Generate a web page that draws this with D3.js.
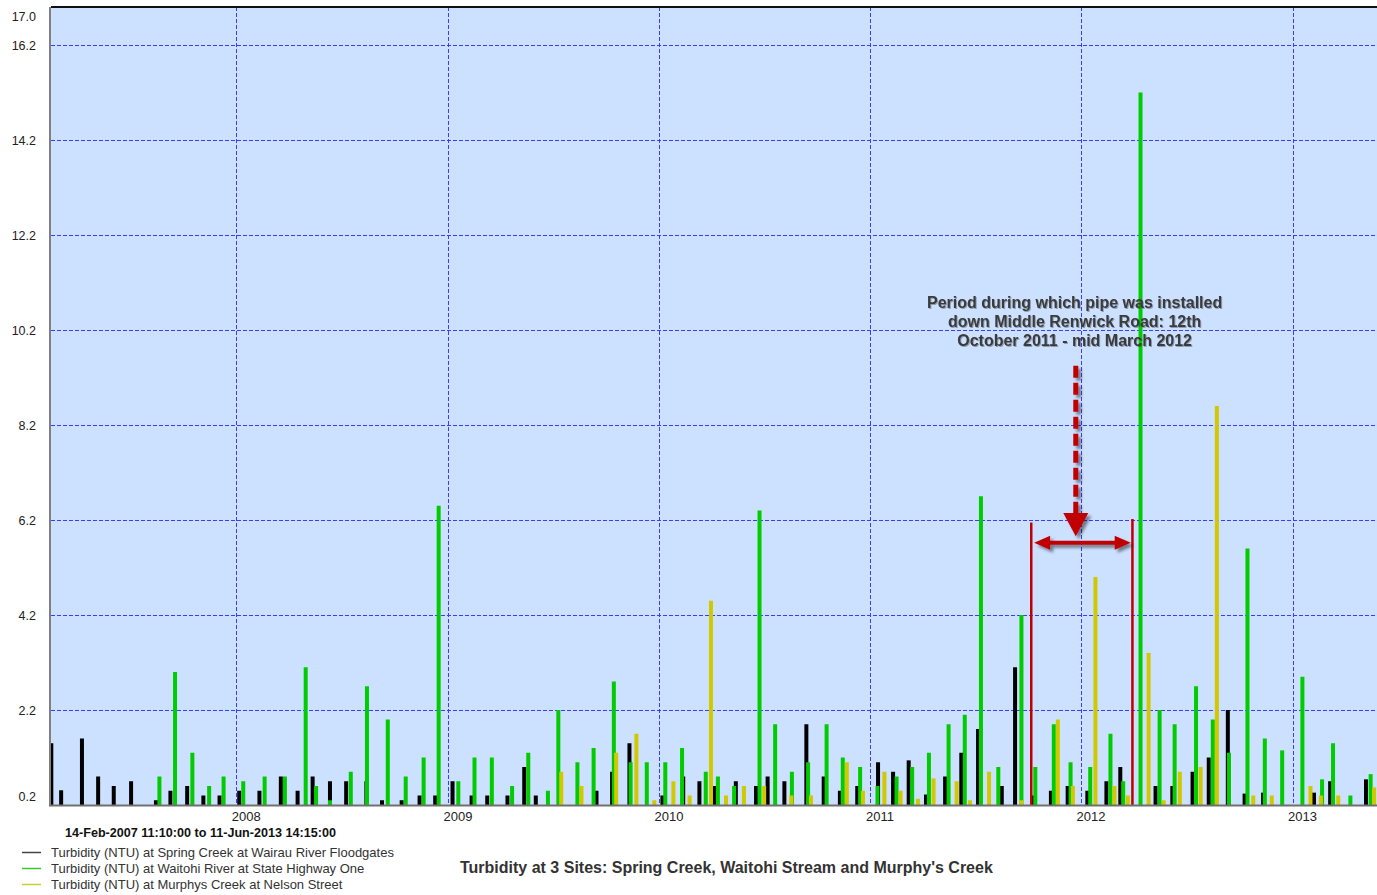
<!DOCTYPE html>
<html>
<head>
<meta charset="utf-8">
<script src="https://cdn.jsdelivr.net/npm/d3@7"></script>
<style>
  body { margin: 0; background: #fff; }
  svg { display: block; font-family: Arial, "Liberation Sans", sans-serif; }
</style>
</head>
<body>
<svg id="chart"></svg>
<script>
// sample dates and turbidity (NTU) for each site
const springDates = ["2007-02-15","2007-03-04","2007-04-09","2007-05-07","2007-06-03","2007-07-03","2007-08-15","2007-09-09","2007-10-08","2007-11-05","2007-12-03",
  "2008-01-06","2008-02-10","2008-03-18","2008-04-16","2008-05-12","2008-06-11","2008-07-09","2008-08-13","2008-09-09","2008-10-13","2008-11-13","2008-12-10",
  "2009-01-09","2009-02-11","2009-03-10","2009-04-14","2009-05-13","2009-06-02","2009-09-15","2009-10-12","2009-11-11",
  "2010-01-07","2010-02-12","2010-03-12","2010-04-07","2010-05-14","2010-06-18","2010-07-08","2010-08-06","2010-09-13","2010-10-13","2010-11-10","2010-12-10",
  "2011-01-15","2011-02-10","2011-03-09","2011-04-08","2011-05-11","2011-06-08","2011-07-07","2011-08-17","2011-09-09","2011-10-11","2011-11-10","2011-12-09",
  "2012-01-12","2012-02-14","2012-03-09","2012-05-09","2012-06-07","2012-07-12","2012-08-09","2012-09-11","2012-10-10","2012-11-11",
  "2013-02-07","2013-03-07","2013-05-08"];
const springValues = [1.5,0.51,1.6,0.8,0.6,0.7,0.3,0.5,0.6,0.4,0.4,
  0.5,0.5,0.8,0.5,0.8,0.7,0.7,0.7,0.3,0.3,0.4,0.4,
  0.7,0.4,0.4,0.4,1.0,0.4,0.5,0.9,1.5,
  0.4,0.8,0.7,0.6,0.7,0.6,0.8,0.7,1.9,0.8,0.5,0.6,
  1.1,0.9,1.14,0.42,0.8,1.3,1.8,0.6,3.1,0.4,0.5,0.6,
  0.5,0.7,1.0,0.6,0.6,0.9,1.2,2.2,0.44,0.46,
  0.46,0.7,0.74];

const waitohiDates = ["2007-08-21","2007-09-17","2007-10-17","2007-11-15","2007-12-10",
  "2008-01-13","2008-02-19","2008-03-25","2008-04-30","2008-05-18","2008-06-11","2008-07-17","2008-08-14","2008-09-19","2008-10-20","2008-11-20","2008-12-16",
  "2009-01-19","2009-02-16","2009-03-18","2009-04-22","2009-05-20","2009-06-23","2009-07-11","2009-08-13","2009-09-10","2009-10-15","2009-11-13","2009-12-11",
  "2010-01-12","2010-02-10","2010-03-23","2010-04-13","2010-05-11","2010-06-24","2010-07-21","2010-08-19","2010-09-16","2010-10-18","2010-11-15","2010-12-15",
  "2011-01-14","2011-02-16","2011-03-15","2011-04-13","2011-05-17","2011-06-14","2011-07-12","2011-08-11","2011-09-20","2011-10-14","2011-11-15","2011-12-14",
  "2012-01-17","2012-02-21","2012-03-14","2012-04-13","2012-05-16","2012-06-11","2012-07-18","2012-08-16","2012-09-13","2012-10-15","2012-11-14","2012-12-14",
  "2013-01-18","2013-02-21","2013-03-12","2013-04-11","2013-05-16"];
const waitohiValues = [0.8,3.0,1.3,0.6,0.8,
  0.7,0.8,0.8,3.1,0.6,0.3,0.9,2.7,2.0,0.8,1.2,6.5,
  0.7,1.2,1.2,0.6,1.3,0.5,2.2,1.1,1.4,2.8,1.1,1.1,
  1.1,1.4,0.9,0.8,0.6,6.4,1.9,0.9,1.1,1.9,1.2,1.0,
  0.6,0.8,1.0,1.3,1.9,2.1,6.7,1.0,4.2,1.0,1.9,1.1,
  1.0,1.7,0.7,15.2,2.2,1.9,2.7,2.0,1.3,5.6,1.6,1.35,
  2.9,0.74,1.5,0.4,0.85];

const murphysDates = ["2009-07-16","2009-08-20","2009-10-19","2009-11-23","2009-12-24",
  "2010-01-26","2010-02-23","2010-04-01","2010-04-27","2010-05-28","2010-07-02","2010-08-18","2010-09-21","2010-11-22","2010-12-20",
  "2011-01-26","2011-02-23","2011-03-25","2011-04-21","2011-05-31","2011-06-23","2011-07-26","2011-09-20","2011-11-22","2011-12-18",
  "2012-01-26","2012-02-28","2012-03-22","2012-04-27","2012-05-23","2012-06-20","2012-07-26","2012-08-23","2012-10-25","2012-11-26",
  "2013-02-01","2013-02-19","2013-03-21","2013-05-22"];
const murphysValues = [0.9,0.6,1.3,1.7,0.3,
  0.7,0.4,4.5,0.4,0.6,0.6,0.4,0.4,1.1,0.5,
  0.9,0.5,0.33,0.76,0.7,0.3,0.9,0.3,2.0,0.6,
  5.0,0.6,0.4,3.4,0.3,0.9,1.0,8.6,0.4,0.4,
  0.6,0.4,0.4,0.57];

const seriesNames = ["Turbidity (NTU) at Spring Creek at Wairau River Floodgates",
  "Turbidity (NTU) at Waitohi River at State Highway One",
  "Turbidity (NTU) at Murphys Creek at Nelson Street"];
const seriesColors = ["#000000", "#00cc00", "#d2c800"];
const legendColors = ["#444444", "#33cc33", "#cccc33"];

const yTicks = [17.0, 16.2, 14.2, 12.2, 10.2, 8.2, 6.2, 4.2, 2.2, 0.2];
const yearTicks = ["2008", "2009", "2010", "2011", "2012", "2013"];

const periodStart = "2011-10-07", periodEnd = "2012-03-30";
const annotationLines = ["Period during which pipe was installed",
  "down Middle Renwick Road: 12th", "October 2011 - mid March 2012"];

const width = 1377, height = 895;
const margin = {top: 7, left: 51, bottom: 805, right: 1386};

const parse = d3.timeParse("%Y-%m-%d");
const parseFull = d3.timeParse("%Y-%m-%d %H:%M");

const x = d3.scaleTime()
    .domain([parseFull("2007-02-14 11:10"), parseFull("2013-06-11 14:15")])
    .range([margin.left, margin.right]);
const y = d3.scaleLinear()
    .domain([0.2, 17.0])
    .range([margin.bottom, margin.top]);

const svg = d3.select("#chart")
    .attr("width", width)
    .attr("height", height);

const defs = svg.append("defs");
defs.append("clipPath").attr("id", "plotclip")
    .append("rect")
    .attr("x", margin.left).attr("y", margin.top)
    .attr("width", margin.right - margin.left).attr("height", margin.bottom - margin.top);
const shadow = defs.append("filter").attr("id", "shadow")
    .attr("x", "-50%").attr("y", "-50%").attr("width", "200%").attr("height", "200%");
shadow.append("feDropShadow").attr("dx", 3).attr("dy", 3).attr("stdDeviation", 1.8)
    .attr("flood-color", "#000").attr("flood-opacity", 0.45);
const tshadow = defs.append("filter").attr("id", "tshadow");
tshadow.append("feDropShadow").attr("dx", 1).attr("dy", 1).attr("stdDeviation", 0.6)
    .attr("flood-color", "#000").attr("flood-opacity", 0.3);

// plot background
svg.append("rect")
    .attr("x", margin.left).attr("y", margin.top)
    .attr("width", margin.right - margin.left).attr("height", margin.bottom - margin.top)
    .attr("fill", "#cce0ff");

const plot = svg.append("g").attr("clip-path", "url(#plotclip)");

// grid
plot.append("g").selectAll("line")
    .data(yTicks.filter(d => d > 0.2 && d < 17))
    .join("line")
    .attr("x1", margin.left).attr("x2", margin.right)
    .attr("y1", d => Math.round(y(d)) + 0.5).attr("y2", d => Math.round(y(d)) + 0.5)
    .attr("stroke", "#3c3cff").attr("stroke-width", 1).attr("stroke-dasharray", "4,2");

plot.append("g").selectAll("line")
    .data(yearTicks)
    .join("line")
    .attr("x1", d => Math.round(x(parse(d + "-01-01"))) + 0.5)
    .attr("x2", d => Math.round(x(parse(d + "-01-01"))) + 0.5)
    .attr("y1", margin.top).attr("y2", margin.bottom)
    .attr("stroke", "#3c3cff").attr("stroke-width", 1).attr("stroke-dasharray", "4,2");

// bars
function drawBars(dates, values, color) {
    const data = dates.map((d, i) => ({date: parse(d), value: values[i]}));
    plot.append("g").selectAll("rect")
        .data(data)
        .join("rect")
        .attr("x", d => x(d.date) - 2)
        .attr("width", 4)
        .attr("y", d => y(d.value))
        .attr("height", d => y(0.2) - y(d.value))
        .attr("fill", color);
}
drawBars(springDates, springValues, seriesColors[0]);
drawBars(waitohiDates, waitohiValues, seriesColors[1]);
drawBars(murphysDates, murphysValues, seriesColors[2]);

// annotation
const ann = svg.append("g");
const red = "#c00000";
[periodStart, periodEnd].forEach((d, i) => {
    ann.append("line")
        .attr("x1", x(parse(d))).attr("x2", x(parse(d)))
        .attr("y1", y(i === 0 ? 6.15 : 6.22)).attr("y2", y(0.2))
        .attr("stroke", red).attr("stroke-width", 2.5);
});

const hx1 = x(parse("2011-10-12")), hx2 = x(parse("2012-03-27")), hy = y(5.72);
const harrow = ann.append("g").attr("filter", "url(#shadow)");
harrow.append("line")
    .attr("x1", hx1 + 10).attr("x2", hx2 - 10).attr("y1", hy).attr("y2", hy)
    .attr("stroke", red).attr("stroke-width", 4);
harrow.append("path")
    .attr("d", `M${hx1},${hy} L${hx1 + 16},${hy - 7} L${hx1 + 16},${hy + 7} Z`)
    .attr("fill", red);
harrow.append("path")
    .attr("d", `M${hx2},${hy} L${hx2 - 16},${hy - 7} L${hx2 - 16},${hy + 7} Z`)
    .attr("fill", red);

const vx = x(parse("2011-12-23"));
const varrow = ann.append("g").attr("filter", "url(#shadow)");
varrow.append("line")
    .attr("x1", vx).attr("x2", vx).attr("y1", y(9.45)).attr("y2", y(6.3))
    .attr("stroke", red).attr("stroke-width", 5).attr("stroke-dasharray", "12,5");
varrow.append("path")
    .attr("d", `M${vx - 12.5},${y(6.35)} L${vx + 12.5},${y(6.35)} L${vx},${y(5.86)} Z`)
    .attr("fill", red);

ann.append("text")
    .attr("text-anchor", "middle")
    .attr("font-size", 16).attr("font-weight", "bold")
    .attr("fill", "#3a3a3a")
    .attr("filter", "url(#tshadow)")
    .selectAll("tspan")
    .data(annotationLines)
    .join("tspan")
    .attr("x", x(parse("2011-12-21")))
    .attr("y", (d, i) => 308 + i * 19)
    .text(d => d);

// frame
svg.append("line")
    .attr("x1", margin.left).attr("x2", margin.right)
    .attr("y1", margin.top).attr("y2", margin.top)
    .attr("stroke", "#111").attr("stroke-width", 2);
svg.append("line")
    .attr("x1", margin.left - 1).attr("x2", margin.left - 1)
    .attr("y1", margin.top).attr("y2", margin.bottom + 1)
    .attr("stroke", "#808080").attr("stroke-width", 2);
svg.append("line")
    .attr("x1", margin.left - 2).attr("x2", margin.right)
    .attr("y1", margin.bottom + 0.5).attr("y2", margin.bottom + 0.5)
    .attr("stroke", "#707070").attr("stroke-width", 2);

// y axis labels
const yAxis = svg.append("g")
    .attr("transform", `translate(${margin.left},0)`)
    .call(d3.axisLeft(y).tickValues(yTicks).tickFormat(d3.format(".1f")).tickSize(0).tickPadding(15));
yAxis.select(".domain").remove();
yAxis.selectAll("text")
    .attr("font-size", 12.5).attr("fill", "#222")
    .attr("font-family", "Arial, 'Liberation Sans', sans-serif")
    .attr("dy", d => d === 17.0 ? "1.05em" : d === 0.2 ? "-0.35em" : "0.32em");

// x axis labels
svg.append("g").selectAll("text")
    .data(yearTicks)
    .join("text")
    .attr("x", d => x(parse(d + "-01-01")) + 10)
    .attr("y", 821)
    .attr("text-anchor", "middle")
    .attr("font-size", 13).attr("fill", "#222")
    .text(d => d);

svg.append("text")
    .attr("x", 65).attr("y", 837)
    .attr("font-size", 12.6).attr("font-weight", "bold").attr("fill", "#111")
    .text("14-Feb-2007 11:10:00 to 11-Jun-2013 14:15:00");

// legend
const legend = svg.append("g");
seriesNames.forEach((name, i) => {
    const ly = 852.5 + i * 16;
    legend.append("line")
        .attr("x1", 22).attr("x2", 41).attr("y1", ly).attr("y2", ly)
        .attr("stroke", legendColors[i]).attr("stroke-width", 1.5);
    legend.append("text")
        .attr("x", 51).attr("y", ly + 4.5)
        .attr("font-size", 13).attr("fill", "#333")
        .text(name);
});

svg.append("text")
    .attr("x", 460).attr("y", 872.5)
    .attr("font-size", 16).attr("font-weight", "bold").attr("fill", "#333")
    .text("Turbidity at 3 Sites: Spring Creek, Waitohi Stream and Murphy's Creek");
</script>
</body>
</html>
